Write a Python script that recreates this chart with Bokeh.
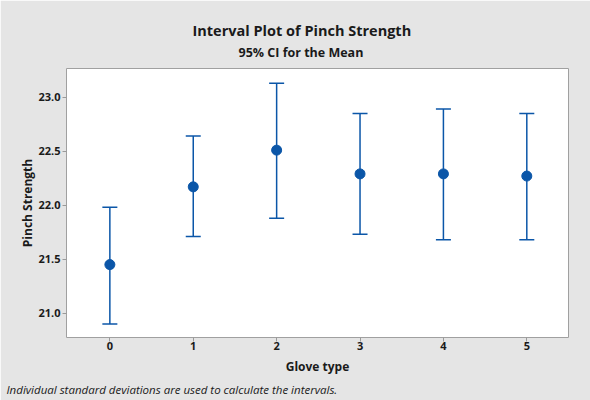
from bokeh.plotting import figure
from bokeh.models import (ColumnDataSource, Whisker, TeeHead, Title,
                          FixedTicker, NumeralTickFormatter, Range1d)
from bokeh.embed import file_html
from bokeh.resources import INLINE

# ---- data ----
glove_type = [0, 1, 2, 3, 4, 5]
mean_strength = [21.45, 22.17, 22.51, 22.29, 22.29, 22.27]
ci_lower = [20.90, 21.71, 21.88, 21.73, 21.68, 21.68]
ci_upper = [21.98, 22.64, 23.13, 22.85, 22.89, 22.85]
y_ticks = [21.0, 21.5, 22.0, 22.5, 23.0]
x_ticks = [0, 1, 2, 3, 4, 5]

BLUE = "#0B56A8"
BG = "#E5E5E5"
FONT = "Open Sans"
TXT = "#1A1A1A"

src = ColumnDataSource(dict(x=glove_type, m=mean_strength, lo=ci_lower, hi=ci_upper))

p = figure(width=590, height=400, output_backend="svg", toolbar_location=None,
           x_range=Range1d(-0.52, 5.5), y_range=Range1d(20.775, 23.266),
           min_border_left=66, min_border_right=22, min_border_top=68,
           min_border_bottom=63)
p.background_fill_color = "white"
p.border_fill_color = BG
p.outline_line_color = "#A0A0A0"
p.outline_line_width = 1
p.grid.visible = False

for ax in (p.xaxis[0], p.yaxis[0]):
    ax.axis_line_color = None
    ax.major_tick_line_color = "#9A9A9A"
    ax.major_tick_out = 4
    ax.major_tick_in = 0
    ax.minor_tick_line_color = None
    ax.major_label_text_font = FONT
    ax.major_label_text_font_size = "11px"
    ax.major_label_text_font_style = "bold"
    ax.major_label_text_color = TXT
    ax.axis_label_text_font = FONT
    ax.axis_label_text_font_size = "12px"
    ax.axis_label_text_font_style = "bold"
    ax.axis_label_text_color = TXT

p.xaxis.ticker = FixedTicker(ticks=x_ticks)
p.yaxis.ticker = FixedTicker(ticks=y_ticks)
p.yaxis.formatter = NumeralTickFormatter(format="0.0")
p.xaxis.axis_label = "Glove type"
p.yaxis.axis_label = "Pinch Strength"
p.xaxis.major_label_standoff = 0
p.yaxis.major_label_standoff = 2
p.xaxis.axis_label_standoff = 5
p.yaxis.axis_label_standoff = -1

w = Whisker(source=src, base="x", lower="lo", upper="hi",
            line_color=BLUE, line_width=1.5,
            upper_head=TeeHead(size=15, line_color=BLUE, line_width=1.5),
            lower_head=TeeHead(size=15, line_color=BLUE, line_width=1.5))
p.add_layout(w)
p.scatter("x", "m", source=src, size=10, fill_color=BLUE, line_color=BLUE)

# titles: subtitle first so it sits nearest the frame
subtitle = Title(text="95% CI for the Mean", align="left", offset=172,
                 text_font=FONT, text_font_size="12.5px", text_font_style="bold",
                 text_color=TXT, standoff=16)
p.add_layout(subtitle, "above")
title = Title(text="Interval Plot of Pinch Strength", align="left", offset=126,
              text_font=FONT, text_font_size="14.5px", text_font_style="bold",
              text_color=TXT, standoff=-12)
p.add_layout(title, "above")

foot = Title(text="Individual standard deviations are used to calculate the intervals.",
             align="left", offset=-60, text_font=FONT, text_font_size="11.5px",
             text_font_style="italic", text_color=TXT, standoff=4)
p.add_layout(foot, "below")

open("out.html", "w").write(file_html(p, INLINE))
